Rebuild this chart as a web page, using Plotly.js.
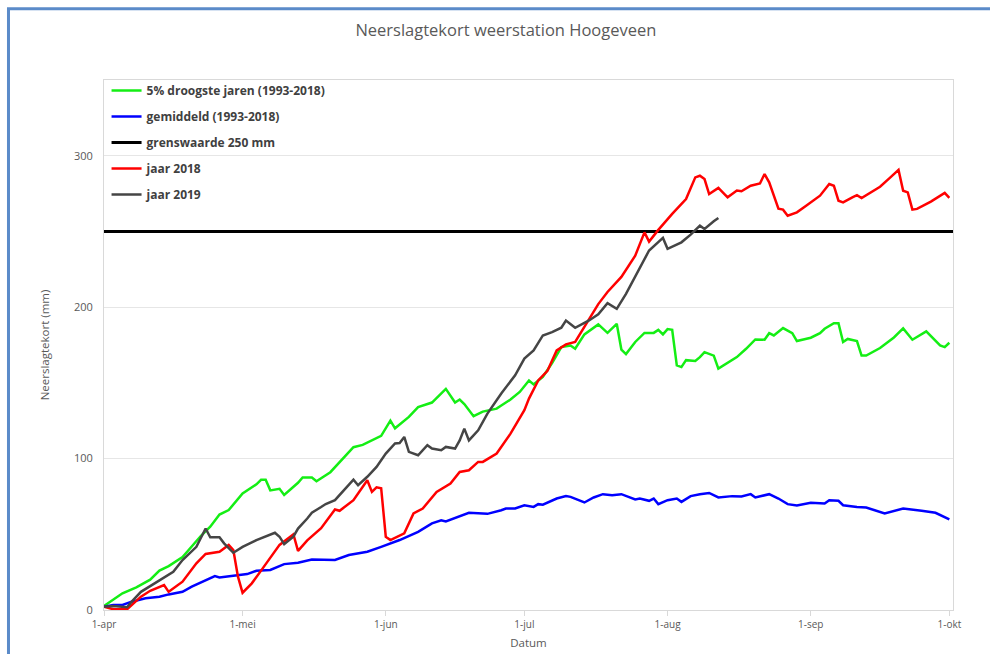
<!DOCTYPE html>
<html>
<head>
<meta charset="utf-8">
<script src="https://cdn.plot.ly/plotly-3.0.1.min.js"></script>
<style>html,body{margin:0;padding:0;background:#fff;}#chart{width:990px;height:654px;}</style>
</head>
<body>
<div id="chart"></div>
<script>
// Days since 1 april, and neerslagtekort (mm)
const seasonStart = [2019, 3, 1];
const tickDays = [0, 30, 61, 91, 122, 153, 183];
const tickLabels = ['1-apr', '1-mei', '1-jun', '1-jul', '1-aug', '1-sep', '1-okt'];

const droogDays = [0,2,4,7,10,12,14,17,21,23,25,27,30,33,34,35,36,38,39,42,43,45,46,49,52,54,56,58,60,62,63,66,68,71,73,74,76,77,78,80,82,85,86,88,90,92,93,95,97,99,101,102,104,107,109,111,112,113,115,117,119,120,121,122,123,124,125,126,128,129,130,132,133,137,139,141,143,144,145,147,149,150,153,155,156,158,159,160,161,163,164,165,168,171,173,175,178,179,181,182,183];
const droogVals = [2.6,7,11,15,20,26,29,35,49,55,63,66,77,83,86,86,79,80,76,84,87.5,87.5,85,91,101,107.5,109,112,115,125,120,127.5,134,137,143,146,137,139,136,128,131,133,135,139,144,151.6,149,154,163,173.6,174.7,172.5,182,188.6,183,189,172,169,177,183,183,185,182,185.5,185,161.5,160.4,165,164.4,167,170.3,168,159.4,167,172.5,178.7,178.5,182.8,181.3,186.2,182.8,177.6,179.8,182.8,185.7,189.4,189.4,177,179,177.6,168,168,173,180,186,178.5,184,181,174.7,173.6,176.5];

const gemDays = [0,2,4,6,9,12,14,17,19,22,24,25,28,31,33,36,39,42,45,50,53,57,60,64,68,71,73,74,79,83,86,87,89,91,93,94,95,98,100,101,104,106,108,110,112,115,116,118,119,120,122,124,125,127,129,131,133,136,138,140,141,144,146,148,150,153,156,157,159,160,163,165,169,173,177,180,183];
const gemVals = [2.2,3.3,3.3,5.5,7.7,8.8,10.3,12,15.4,19.3,22.4,21.5,22.4,23.7,25.9,26.4,30.3,31.2,33.4,33,36.3,38.5,41.7,46.2,51.6,57.2,59.3,58.5,64.2,63.5,65.9,67,67,69.2,68.1,69.9,69.5,73.6,75.2,74.7,71,74.3,76.5,75.8,76.5,73,73.6,72.1,73.6,69.9,72.5,73.6,71.4,75.2,76.5,77.3,74.3,75.2,75,76.5,74.3,76.5,73.6,69.9,69,70.8,70.3,72.5,72.1,69.2,68.1,67.7,63.8,67,65.5,64.2,59.8];

const grensDays = [0, 184];
const grensVals = [250, 250];

const j2018Days = [0,2,5,6,8,10,13,14,17,20,22,25,27,28,29,30,32,34,38,41,42,44,47,50,51,54,57,58,59,60,61,62,65,67,69,72,75,77,79,81,82,85,88,91,92,94,96,98,100,102,104,107,109,112,115,117,118,120,123,126,128,129,130,131,133,135,137,138,140,142,143,144,146,147,148,150,152,155,157,158,159,160,162,163,164,166,168,170,172,173,174,175,176,179,181,182,183];
const j2018Vals = [2.2,0.5,0.5,3.3,8.8,12.7,16.5,12,18.7,30.8,37,38.5,43,39.6,22,11.4,17.6,26,43,50,39,46,54,66.4,65.5,72.5,85.7,78,81,80.4,48.4,46.2,50.6,63.8,67,78,83.5,91.2,92.3,97.8,97.8,103.3,116.5,132,139.6,151.6,158,171.4,175.4,177,186.8,202,210,220,234,249.4,243.3,251,261.6,271.4,285.7,286.8,284.6,274.7,278.7,272.5,277,276.5,280.2,281.7,287.9,282.4,265,264.4,260.4,262.6,267,273.6,281.3,280.2,270.3,269.2,272.5,274,272.1,275.8,279.5,285,290.6,276.9,275.8,264.4,264.9,269.7,273.6,275.4,272.1];

const j2019Days = [0,2,5,6,8,11,12,15,17,20,22,23,25,26,28,30,33,35,37,38,39,41,42,44,45,47,48,50,52,54,55,57,59,61,63,64,65,66,68,70,71,73,74,76,77,78,79,81,83,86,89,91,93,95,97,99,100,102,105,107,109,111,113,116,118,121,122,125,127,129,130,132,133];
const j2019Vals = [2.2,2.6,1.8,5.5,12,17.6,19.8,25.3,33,41.7,53.8,48,48,44,37.8,41.7,46.2,48.4,51,48.4,43.5,48.4,53.8,60.4,64.2,68,70,72.5,79,86,82.4,88,94.5,103.3,110,110.3,114.3,104.4,102.2,108.8,106.6,105.5,107.7,106.6,112,119.8,112,118.7,129.7,143,155,166,171.4,181.3,183.5,186.4,191.2,186.4,191.2,195.2,202.6,198.9,208.8,226.3,237.4,245.7,238.5,242.8,247.9,253.8,251.6,256.7,258.9];

function toDate(d) {
  const t = Date.UTC(seasonStart[0], seasonStart[1], seasonStart[2]) + d * 86400000;
  return new Date(t).toISOString().slice(0, 10);
}
function dates(arr) { return arr.map(toDate); }

const legendFont = {family: 'Open Sans, sans-serif', size: 12, color: '#404040', weight: 'bold'};

const traces = [
  {x: dates(droogDays), y: droogVals, name: '5% droogste jaren (1993-2018)', legendgroup: 'a',
   mode: 'lines', line: {color: '#14ee14', width: 2.5}},
  {x: dates(gemDays), y: gemVals, name: 'gemiddeld (1993-2018)', legendgroup: 'b',
   mode: 'lines', line: {color: '#0000ff', width: 2.5}},
  {x: dates(grensDays), y: grensVals, name: 'grenswaarde 250 mm', legendgroup: 'c',
   mode: 'lines', line: {color: '#000000', width: 3}},
  {x: dates(j2018Days), y: j2018Vals, name: 'jaar 2018', legendgroup: 'd',
   mode: 'lines', line: {color: '#ff0000', width: 2.5}},
  {x: dates(j2019Days), y: j2019Vals, name: 'jaar 2019', legendgroup: 'e',
   mode: 'lines', line: {color: '#454545', width: 2.5}}
];

const layout = {
  width: 990, height: 654,
  margin: {l: 104, r: 37, t: 80, b: 44},
  paper_bgcolor: '#ffffff', plot_bgcolor: '#ffffff',
  font: {family: 'Open Sans, sans-serif', color: '#595959'},
  title: {text: 'Neerslagtekort weerstation Hoogeveen', font: {size: 16.5, color: '#595959'},
          xref: 'container', x: 0.511, xanchor: 'center', yref: 'container', y: 0.954, yanchor: 'middle'},
  showlegend: true,
  legend: {x: 0.003, y: 1.0075, xanchor: 'left', yanchor: 'top', bgcolor: 'rgba(0,0,0,0)',
           font: legendFont, tracegroupgap: 7, itemwidth: 30},
  xaxis: {type: 'date', range: ['2019-04-01', '2019-10-01 19:00'],
          tickvals: dates(tickDays), ticktext: tickLabels,
          ticks: 'outside', ticklen: 5, tickcolor: '#d9d9d9', tickwidth: 1,
          tickfont: {size: 10, color: '#595959'},
          showgrid: false, showline: true, linecolor: '#d9d9d9', linewidth: 1, mirror: true,
          zeroline: false,
          title: {text: 'Datum', font: {size: 11.5, color: '#595959'}, standoff: 8}},
  yaxis: {range: [0, 350], tickvals: [0, 100, 200, 300], ticktext: ['0', '100', '200', '300'],
          ticks: '', tickfont: {size: 11, color: '#595959'}, ticklabelstandoff: 8,
          showgrid: true, gridcolor: '#e6e6e6', gridwidth: 1,
          showline: true, linecolor: '#d9d9d9', linewidth: 1, mirror: true, zeroline: false,
          title: {text: 'Neerslagtekort (mm)', font: {size: 11.5, color: '#595959'}, standoff: 21}},
  shapes: [
    {type: 'rect', xref: 'paper', yref: 'paper', x0: -0.1125, x1: 1.2, y0: -0.3, y1: 1.1343,
     line: {color: '#5b8bc9', width: 3}, fillcolor: 'rgba(0,0,0,0)', layer: 'below'}
  ]
};

Plotly.newPlot('chart', traces, layout, {displayModeBar: false, staticPlot: true});
</script>
</body>
</html>
